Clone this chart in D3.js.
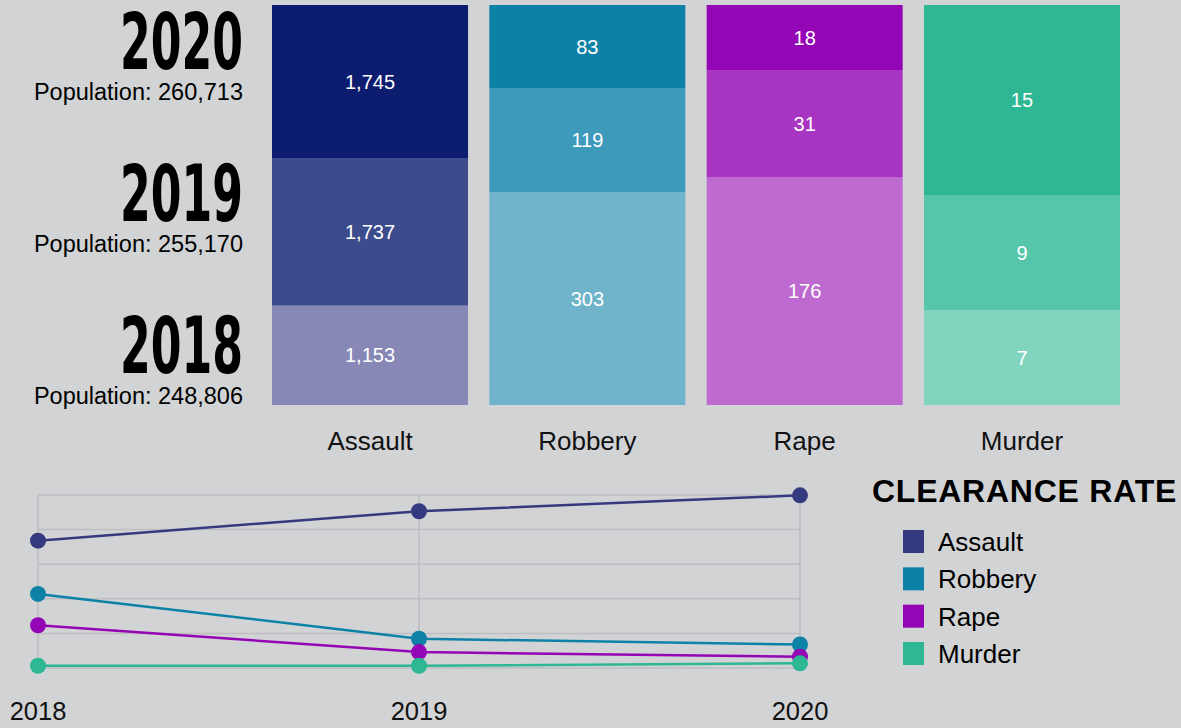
<!DOCTYPE html>
<html>
<head>
<meta charset="utf-8">
<script src="https://cdn.jsdelivr.net/npm/d3@7"></script>
<style>
  html, body { margin: 0; padding: 0; background: #d2d3d5; }
  svg { display: block; }
  text { font-family: "Liberation Sans", Arial, sans-serif; }
</style>
</head>
<body>
<svg id="chart" width="1181" height="728"></svg>
<script>
// ---- data ----
var crimes = ["Assault", "Robbery", "Rape", "Murder"];
var years = [2018, 2019, 2020];
var populations = [248806, 255170, 260713];

// counts shown in each block (2018, 2019, 2020)
var assaultCounts = [1153, 1737, 1745];
var robberyCounts = [303, 119, 83];
var rapeCounts = [176, 31, 18];
var murderCounts = [7, 9, 15];

// height share of each block in its column, % (2018, 2019, 2020)
var assaultShare = [24.85, 36.9, 38.25];
var robberyShare = [53.25, 26, 20.75];
var rapeShare = [57, 26.75, 16.25];
var murderShare = [23.75, 28.75, 47.5];

// clearance rate, % (2018, 2019, 2020)
var assaultRate = [73.6, 90.6, 99.8];
var robberyRate = [42.8, 16.9, 13.6];
var rapeRate = [24.7, 9.2, 6.5];
var murderRate = [1.3, 1.3, 2.7];

var baseColors = ["#353a80", "#0e82a6", "#9305b5", "#2db893"];
// block shades per crime (2018, 2019, 2020)
var shades = [
  ["#8788b5", "#3c4b8c", "#0c1c6f"],
  ["#6fb4cb", "#3d9aba", "#0e82a6"],
  ["#be6ad1", "#a834c2", "#9305b5"],
  ["#81d4bd", "#55c6a9", "#2db893"]
];

var counts = [assaultCounts, robberyCounts, rapeCounts, murderCounts];
var shares = [assaultShare, robberyShare, rapeShare, murderShare];
var rates = [assaultRate, robberyRate, rapeRate, murderRate];

var svg = d3.select("#chart");
var fmt = d3.format(",");

// ---- top: block columns ----
var barTop = 5, barBottom = 405;
var x = d3.scaleBand().domain(crimes).range([272, 1120]).paddingInner(0.098).paddingOuter(0);
var h = d3.scaleLinear().domain([0, 100]).range([0, barBottom - barTop]);

var columns = crimes.map(function(c, i) {
  var y0 = barBottom;
  return years.map(function(yr, j) {
    var hh = h(shares[i][j]);
    var seg = {crime: c, year: yr, count: counts[i][j], color: shades[i][j], y: y0 - hh, h: hh};
    y0 -= hh;
    return seg;
  });
});

var col = svg.append("g").selectAll("g")
  .data(columns)
  .enter().append("g");

col.selectAll("rect")
  .data(function(d) { return d; })
  .enter().append("rect")
  .attr("x", function(d) { return x(d.crime); })
  .attr("y", function(d) { return d.y; })
  .attr("width", x.bandwidth())
  .attr("height", function(d) { return d.h; })
  .attr("fill", function(d) { return d.color; });

col.selectAll("text")
  .data(function(d) { return d; })
  .enter().append("text")
  .attr("x", function(d) { return x(d.crime) + x.bandwidth() / 2; })
  .attr("y", function(d) { return d.y + d.h / 2; })
  .attr("text-anchor", "middle")
  .attr("dominant-baseline", "central")
  .attr("fill", "#fff")
  .attr("font-size", 20)
  .text(function(d) { return fmt(d.count); });

svg.append("g").selectAll("text")
  .data(crimes)
  .enter().append("text")
  .attr("x", function(d) { return x(d) + x.bandwidth() / 2; })
  .attr("y", 450)
  .attr("text-anchor", "middle")
  .attr("font-size", 26)
  .attr("fill", "#111")
  .text(function(d) { return d; });

// year + population labels
var yl = d3.scalePoint().domain([2020, 2019, 2018]).range([100, 404]);
var yearG = svg.append("g").selectAll("g")
  .data(years)
  .enter().append("g");

yearG.append("text")
  .attr("x", 243)
  .attr("y", function(d) { return yl(d) - 31; })
  .attr("text-anchor", "end")
  .attr("font-size", 78)
  .attr("font-weight", "bold")
  .attr("textLength", 123)
  .attr("lengthAdjust", "spacingAndGlyphs")
  .style("font-family", "'Liberation Sans Narrow', 'DejaVu Sans Condensed', sans-serif")
  .attr("fill", "#000")
  .text(function(d) { return d; });

yearG.append("text")
  .attr("x", 243)
  .attr("y", function(d) { return yl(d); })
  .attr("text-anchor", "end")
  .attr("font-size", 23.5)
  .attr("fill", "#000")
  .text(function(d, i) { return "Population: " + fmt(populations[i]); });

// ---- bottom: clearance rate lines ----
var lx = d3.scalePoint().domain(years).range([38, 800]);
var ly = d3.scaleLinear().domain([0, 100]).range([668, 495]);

var grid = svg.append("g").attr("stroke", "#bdbec1").attr("stroke-width", 1.5);
grid.selectAll("line.h")
  .data(ly.ticks(5))
  .enter().append("line")
  .attr("class", "h")
  .attr("x1", lx(2018)).attr("x2", lx(2020))
  .attr("y1", function(d) { return ly(d); })
  .attr("y2", function(d) { return ly(d); });
grid.selectAll("line.v")
  .data(years)
  .enter().append("line")
  .attr("class", "v")
  .attr("x1", function(d) { return lx(d); })
  .attr("x2", function(d) { return lx(d); })
  .attr("y1", ly(100)).attr("y2", ly(0));

svg.append("g").selectAll("text")
  .data(years)
  .enter().append("text")
  .attr("x", function(d) { return lx(d); })
  .attr("y", 720)
  .attr("text-anchor", "middle")
  .attr("font-size", 25.5)
  .attr("fill", "#111")
  .text(function(d) { return d; });

var line = d3.line()
  .x(function(d, j) { return lx(years[j]); })
  .y(function(d) { return ly(d); });

var series = svg.append("g").selectAll("g")
  .data(rates)
  .enter().append("g");

series.append("path")
  .attr("d", line)
  .attr("fill", "none")
  .attr("stroke", function(d, i) { return baseColors[i]; })
  .attr("stroke-width", 2.5);

series.each(function(d, i) {
  d3.select(this).selectAll("circle")
    .data(d)
    .enter().append("circle")
    .attr("cx", function(v, j) { return lx(years[j]); })
    .attr("cy", function(v) { return ly(v); })
    .attr("r", 8)
    .attr("fill", baseColors[i]);
});

// legend
svg.append("text")
  .attr("x", 872)
  .attr("y", 502)
  .attr("font-size", 32)
  .attr("font-weight", "bold")
  .attr("letter-spacing", 0.75)
  .attr("fill", "#000")
  .text("CLEARANCE RATE");

var lg = d3.scalePoint().domain(crimes).range([542, 654]);
var leg = svg.append("g").selectAll("g")
  .data(crimes)
  .enter().append("g");
leg.append("rect")
  .attr("x", 903)
  .attr("y", function(d) { return lg(d) - 12; })
  .attr("width", 21)
  .attr("height", 23)
  .attr("fill", function(d, i) { return baseColors[i]; });
leg.append("text")
  .attr("x", 938)
  .attr("y", function(d) { return lg(d) + 9; })
  .attr("font-size", 26)
  .attr("fill", "#000")
  .text(function(d) { return d; });
</script>
</body>
</html>
